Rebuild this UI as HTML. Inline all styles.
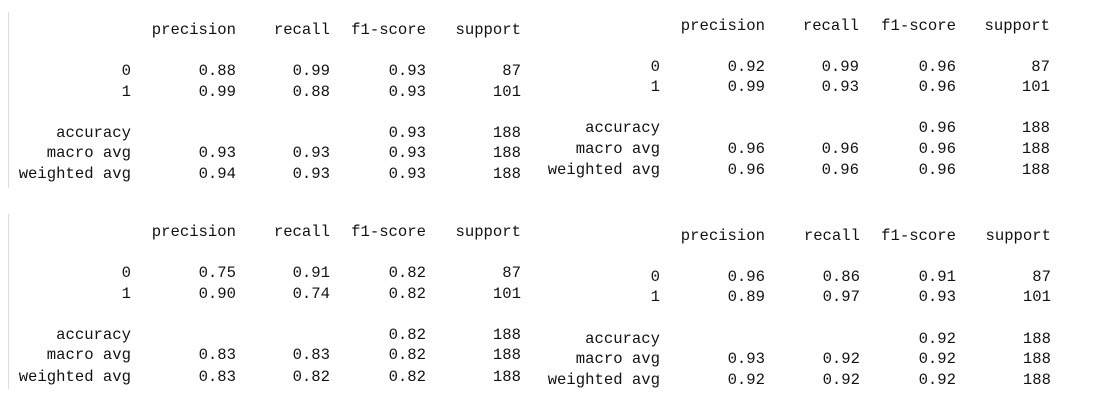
<!DOCTYPE html>
<html><head><meta charset="utf-8">
<style>
html,body{margin:0;padding:0;background:#fff;}
#root{position:relative;width:1120px;height:403px;overflow:hidden;background:#fff;
font-family:"Liberation Mono",monospace;font-size:15.6px;color:#111;}
.t{position:absolute;white-space:pre;line-height:20px;height:20px;text-align:right;}
.bar{position:absolute;left:8px;width:1px;background:#ddd;}
</style></head>
<body>
<div id="root">
<div class="bar" style="top:12px;height:176px"></div>
<div class="bar" style="top:214px;height:175px"></div>
</div>
<script>
const headers = ["precision","recall","f1-score","support"];
const rowLabels = ["0","1","accuracy","macro avg","weighted avg"];
const report1 = [["0.88","0.99","0.93","87"],["0.99","0.88","0.93","101"],["","","0.93","188"],["0.93","0.93","0.93","188"],["0.94","0.93","0.93","188"]];
const report2 = [["0.92","0.99","0.96","87"],["0.99","0.93","0.96","101"],["","","0.96","188"],["0.96","0.96","0.96","188"],["0.96","0.96","0.96","188"]];
const report3 = [["0.75","0.91","0.82","87"],["0.90","0.74","0.82","101"],["","","0.82","188"],["0.83","0.83","0.82","188"],["0.83","0.82","0.82","188"]];
const report4 = [["0.96","0.86","0.91","87"],["0.89","0.97","0.93","101"],["","","0.92","188"],["0.93","0.92","0.92","188"],["0.92","0.92","0.92","188"]];

const blocks = [
  {name:"report-top-left", data:report1, cols:[131,236,330,426,521], rows:[30,71,92,133,153,174]},
  {name:"report-top-right", data:report2, cols:[660,765,859,956,1050], rows:[26,67,87,128,149,170]},
  {name:"report-bottom-left", data:report3, cols:[131,236,330,426,521], rows:[232,273,294,335,355,377]},
  {name:"report-bottom-right", data:report4, cols:[660,765,860,956,1051], rows:[236,277,297,339,359,380]}
];
const root = document.getElementById('root');
function put(parent, text, xRight, yCenter, name){
  const s = document.createElement('span');
  s.className = 't';
  
  
  s.textContent = text;
  s.style.right = (1120 - xRight) + 'px';
  s.style.top = (yCenter - 10) + 'px';
  parent.appendChild(s);
}
blocks.forEach(b=>{
  const g = document.createElement('div');
  
  
  root.appendChild(g);
  headers.forEach((h,i)=>put(g, h, b.cols[i+1], b.rows[0], 'header-' + h));
  rowLabels.forEach((r,ri)=>{
    put(g, r, b.cols[0], b.rows[ri+1], 'row-label');
    b.data[ri].forEach((v,ci)=>{ if(v) put(g, v, b.cols[ci+1], b.rows[ri+1], 'cell-value'); });
  });
});
</script>
</body></html>
